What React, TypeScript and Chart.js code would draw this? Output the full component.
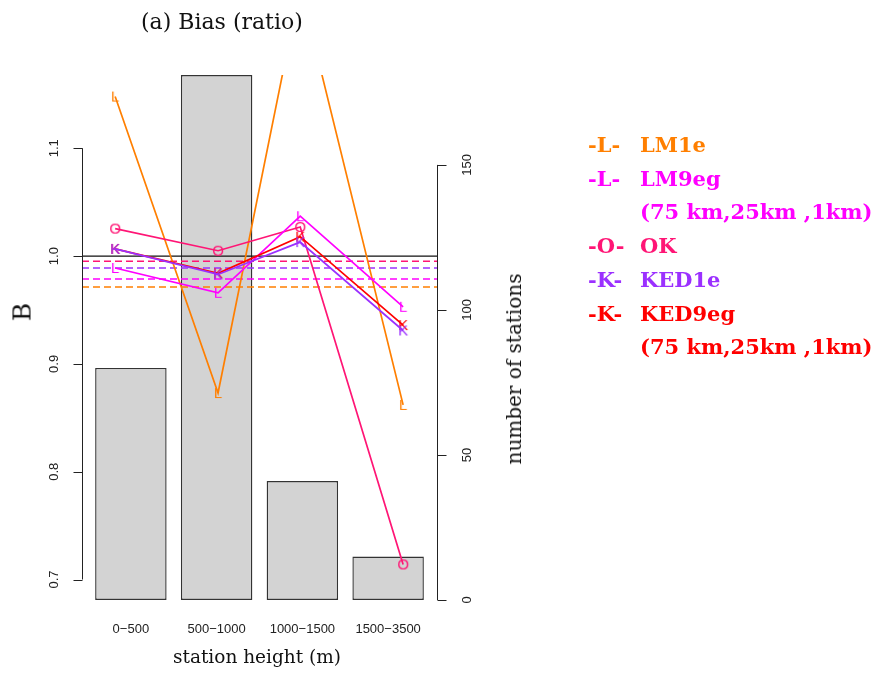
import React, { useEffect, useRef } from "react";
import { Chart, registerables } from "chart.js";

Chart.register(...registerables);

// ---------- data ----------
const categories = ["0\u2212500", "500\u22121000", "1000\u22121500", "1500\u22123500"];
const stationCounts = [80, 181, 41, 15];
const barPositions = [0.7, 1.9, 3.1, 4.3];
const linePositions = [0.48, 1.92, 3.07, 4.51];

const lm1e = [1.148, 0.873, 1.25, 0.862];
const lm9eg = [0.989, 0.966, 1.037, 0.953];
const okValues = [1.0255, 1.005, 1.027, 0.714];
const ked1e = [1.0067, 0.983, 1.013, 0.931];
const ked9eg = [1.0067, 0.984, 1.018, 0.936];

const meanBiasNames = ["OK", "KED1e", "LM9eg", "LM1e"];
const meanBiasValues = [0.9952, 0.989, 0.9788, 0.9714];
const referenceLevel = 1.0;

const leftTicks = [0.7, 0.8, 0.9, 1.0, 1.1];
const leftTickLabels = ["0.7", "0.8", "0.9", "1.0", "1.1"];
const rightTicks = [0, 50, 100, 150];
const rightTickLabels = ["0", "50", "100", "150"];

const xRange = [0.016, 4.984];
const leftRange = [0.681, 1.168];
const rightRange = [0, 181];

// ---------- styles ----------
const COLORS: Record<string, string> = {
  LM1e: "#FF7F00",
  LM9eg: "#FF00FF",
  OK: "#FF1575",
  KED1e: "#9B30FF",
  KED9eg: "#FF0000",
};
const AXIS_COLOR = "#222";
const TICK_FONT = '13px "Liberation Sans", Arial, sans-serif';
const SERIF = '"DejaVu Serif", serif';

function letterMarker(ch: string, color: string) {
  const c = document.createElement("canvas");
  c.width = 18;
  c.height = 18;
  const g = c.getContext("2d")!;
  g.font = '15px "Liberation Sans", Arial, sans-serif';
  g.fillStyle = color;
  g.textAlign = "center";
  g.textBaseline = "middle";
  g.fillText(ch, 9, 9.5);
  return c;
}

const rAxesPlugin = {
  id: "rAxes",
  afterDraw(chart: any) {
    const { ctx, chartArea, scales } = chart;
    const yL = scales.y;
    const yR = scales.y2;
    const x = scales.x;
    ctx.save();
    ctx.strokeStyle = AXIS_COLOR;
    ctx.fillStyle = AXIS_COLOR;
    ctx.lineWidth = 1;
    ctx.font = TICK_FONT;
    ctx.textAlign = "center";
    ctx.textBaseline = "middle";

    // left axis
    const lx = Math.round(chartArea.left) + 0.5;
    ctx.beginPath();
    ctx.moveTo(lx, yL.getPixelForValue(leftTicks[0]));
    ctx.lineTo(lx, yL.getPixelForValue(leftTicks[leftTicks.length - 1]));
    leftTicks.forEach((t) => {
      const py = Math.round(yL.getPixelForValue(t)) + 0.5;
      ctx.moveTo(lx, py);
      ctx.lineTo(lx - 9, py);
    });
    ctx.stroke();
    leftTicks.forEach((t, i) => {
      const py = yL.getPixelForValue(t);
      ctx.save();
      ctx.translate(lx - 28.5, py);
      ctx.rotate(-Math.PI / 2);
      ctx.fillText(leftTickLabels[i], 0, 0);
      ctx.restore();
    });

    // right axis
    const rx = Math.round(chartArea.right) + 0.5;
    ctx.beginPath();
    ctx.moveTo(rx, yR.getPixelForValue(rightTicks[0]));
    ctx.lineTo(rx, yR.getPixelForValue(rightTicks[rightTicks.length - 1]));
    rightTicks.forEach((t) => {
      const py = Math.round(yR.getPixelForValue(t)) + 0.5;
      ctx.moveTo(rx, py);
      ctx.lineTo(rx + 9, py);
    });
    ctx.stroke();
    rightTicks.forEach((t, i) => {
      const py = yR.getPixelForValue(t);
      ctx.save();
      ctx.translate(rx + 29.5, py);
      ctx.rotate(-Math.PI / 2);
      ctx.fillText(rightTickLabels[i], 0, 0);
      ctx.restore();
    });

    // category labels
    categories.forEach((c, i) => {
      ctx.fillText(c, x.getPixelForValue(barPositions[i]), chartArea.bottom + 29);
    });
    ctx.restore();
  },
};

export default function App() {
  const canvasRef = useRef<HTMLCanvasElement | null>(null);

  useEffect(() => {
    if (!canvasRef.current) return;
    const seriesLine = (label: string, values: number[], marker: string, order: number) => ({
      type: "line" as const,
      label,
      data: values.map((v, i) => ({ x: linePositions[i], y: v })),
      xAxisID: "x",
      yAxisID: "y",
      borderColor: COLORS[label],
      backgroundColor: COLORS[label],
      borderWidth: 1.7,
      pointStyle: letterMarker(marker, COLORS[label]),
      pointRadius: 4,
      pointHoverRadius: 4,
      tension: 0,
      fill: false,
      clip: 0,
      order,
    });

    const meanLines = meanBiasValues.map((v, i) => ({
      type: "line" as const,
      label: "mean " + meanBiasNames[i],
      data: [
        { x: xRange[0], y: v },
        { x: xRange[1], y: v },
      ],
      xAxisID: "x",
      yAxisID: "y",
      borderColor: COLORS[meanBiasNames[i]],
      borderWidth: 1.6,
      borderDash: [7, 4],
      pointRadius: 0,
      fill: false,
      clip: 0,
      order: 8,
    }));

    const chart = new Chart(canvasRef.current, {
      type: "line",
      data: {
        datasets: [
          {
            type: "bar" as const,
            label: "number of stations",
            data: stationCounts.map((v, i) => ({ x: barPositions[i], y: v })),
            xAxisID: "x",
            yAxisID: "y2",
            backgroundColor: "#D3D3D3",
            borderColor: "#333",
            borderWidth: 1.4,
            borderSkipped: false,
            barPercentage: 1 / 1.2,
            categoryPercentage: 1,
            clip: 2,
            order: 10,
          } as any,
          ...meanLines,
          {
            type: "line" as const,
            label: "reference",
            data: [
              { x: xRange[0], y: referenceLevel },
              { x: xRange[1], y: referenceLevel },
            ],
            xAxisID: "x",
            yAxisID: "y",
            borderColor: "#111",
            borderWidth: 1.3,
            pointRadius: 0,
            fill: false,
            clip: 0,
            order: 7,
          },
          seriesLine("LM1e", lm1e, "L", 6),
          seriesLine("OK", okValues, "O", 5),
          seriesLine("LM9eg", lm9eg, "L", 4),
          seriesLine("KED9eg", ked9eg, "K", 3),
          seriesLine("KED1e", ked1e, "K", 2),
        ],
      },
      options: {
        animation: false,
        responsive: false,
        events: [],
        layout: { padding: { left: 82, top: 75, right: 439, bottom: 75 } },
        plugins: {
          legend: { display: false },
          title: { display: false },
          tooltip: { enabled: false },
        },
        scales: {
          x: {
            type: "linear",
            display: false,
            min: xRange[0],
            max: xRange[1],
            offset: false,
            afterBuildTicks: (scale: any) => {
              scale.ticks = barPositions.map((v) => ({ value: v }));
            },
          },
          y: {
            type: "linear",
            display: false,
            min: leftRange[0],
            max: leftRange[1],
          },
          y2: {
            type: "linear",
            display: false,
            position: "right",
            min: rightRange[0],
            max: rightRange[1],
          },
        },
      } as any,
      plugins: [rAxesPlugin],
    });
    return () => chart.destroy();
  }, []);

  const abs: React.CSSProperties = { position: "absolute", whiteSpace: "nowrap", lineHeight: 1 };
  const legendRows: { prefix: string; text: string; color: string }[] = [
    { prefix: "-L-", text: "LM1e", color: COLORS.LM1e },
    { prefix: "-L-", text: "LM9eg", color: COLORS.LM9eg },
    { prefix: "", text: "(75 km,25km ,1km)", color: COLORS.LM9eg },
    { prefix: "-O-", text: "OK", color: COLORS.OK },
    { prefix: "-K-", text: "KED1e", color: COLORS.KED1e },
    { prefix: "-K-", text: "KED9eg", color: COLORS.KED9eg },
    { prefix: "", text: "(75 km,25km ,1km)", color: COLORS.KED9eg },
  ];

  return (
    <div
      style={{
        position: "fixed",
        left: 0,
        top: 0,
        width: 876,
        height: 675,
        background: "#fff",
        overflow: "hidden",
      }}
    >
      <canvas ref={canvasRef} width={876} height={675} style={{ display: "block" }} />
      <div style={{ ...abs, left: 141, top: 22, transform: "translateY(-50%)", fontFamily: SERIF, fontSize: 22, color: "#111" }}>
        (a) Bias (ratio)
      </div>
      <div
        style={{
          ...abs,
          left: 22,
          top: 312,
          transform: "translate(-50%,-50%) rotate(-90deg)",
          fontFamily: SERIF,
          fontSize: 25,
          color: "#111",
        }}
      >
        B
      </div>
      <div
        style={{
          ...abs,
          left: 514,
          top: 369,
          transform: "translate(-50%,-50%) rotate(-90deg)",
          fontFamily: SERIF,
          fontSize: 20,
          color: "#111",
        }}
      >
        number of stations
      </div>
      <div
        style={{
          ...abs,
          left: 257,
          top: 657,
          transform: "translate(-50%,-50%)",
          fontFamily: SERIF,
          fontSize: 18.5,
          color: "#111",
        }}
      >
        station height (m)
      </div>
      {legendRows.map((r, i) => (
        <React.Fragment key={i}>
          {r.prefix && (
            <div
              style={{
                ...abs,
                left: 588,
                top: 144 + i * 33.7,
                transform: "translateY(-50%)",
                fontFamily: SERIF,
                fontSize: 21,
                fontWeight: "bold",
                color: r.color,
              }}
            >
              {r.prefix}
            </div>
          )}
          <div
            style={{
              ...abs,
              left: 640,
              top: 144 + i * 33.7,
              transform: "translateY(-50%)",
              fontFamily: SERIF,
              fontSize: 21,
              fontWeight: "bold",
              color: r.color,
            }}
          >
            {r.text}
          </div>
        </React.Fragment>
      ))}
    </div>
  );
}
